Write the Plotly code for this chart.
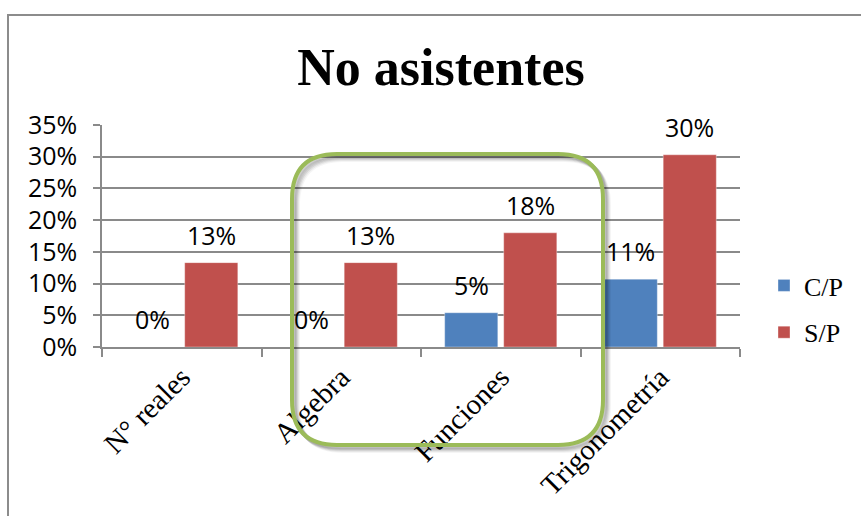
import plotly.graph_objects as go

# Data
categories = ["N° reales", "Algebra", "Funciones", "Trigonometría"]
cp_values = [0.0, 0.0, 0.054, 0.107]     # C/P
sp_values = [0.133, 0.133, 0.180, 0.303]  # S/P
y_ticks = [0, 0.05, 0.10, 0.15, 0.20, 0.25, 0.30, 0.35]

BLUE = "#4F81BD"
RED = "#C0504D"
GREEN = "#9BBB59"
GRID = "#8a8a8a"

W, H = 861, 516
PL, PR, PT, PB = 102, 740, 125, 347  # plot area in pixels


def px(x, y):
    """Pixel position -> paper coordinates."""
    return (x - PL) / (PR - PL), (PB - y) / (PB - PT)


def rounded_rect(x0, y0, x1, y1, r):
    pts = [
        ("M", [(x0 + r, y0)]),
        ("L", [(x1 - r, y0)]),
        ("Q", [(x1, y0), (x1, y0 + r)]),
        ("L", [(x1, y1 - r)]),
        ("Q", [(x1, y1), (x1 - r, y1)]),
        ("L", [(x0 + r, y1)]),
        ("Q", [(x0, y1), (x0, y1 - r)]),
        ("L", [(x0, y0 + r)]),
        ("Q", [(x0, y0), (x0 + r, y0)]),
    ]
    out = []
    for cmd, ps in pts:
        coords = []
        for (a, b) in ps:
            u, v = px(a, b)
            coords.append(f"{u:.5f},{v:.5f}")
        out.append(cmd + " ".join(coords))
    return " ".join(out) + " Z"


fig = go.Figure()
fig.add_trace(go.Bar(name="C/P", x=categories, y=cp_values, marker_color=BLUE,
                     marker_line=dict(color="rgba(255,255,255,0.35)", width=1),
                     legendgroup="cp"))
fig.add_trace(go.Bar(name="S/P", x=categories, y=sp_values, marker_color=RED,
                     marker_line=dict(color="rgba(255,255,255,0.35)", width=1),
                     legendgroup="sp"))

label_font = dict(family="Open Sans", size=25, color="#000000")
annotations = []
for vals, shift in ((cp_values, -29.5), (sp_values, 29.5)):
    for c, v in zip(categories, vals):
        annotations.append(dict(x=c, y=v, xref="x", yref="y", text=f"{v:.0%}",
                                showarrow=False, xshift=shift, yshift=9,
                                yanchor="bottom", font=label_font))

shapes = []
# outer frame
fx0, fy0 = px(8, 15)
fx1, fy1 = px(875, 540)
shapes.append(dict(type="rect", xref="paper", yref="paper", x0=fx0, y0=fy1, x1=fx1, y1=fy0,
                   line=dict(color="#8c8c8c", width=2), layer="below"))
# soft shadow of the highlight box
for off, alpha in ((6, 0.04), (5, 0.06), (4, 0.08), (3, 0.10), (2, 0.10)):
    shapes.append(dict(type="path", xref="paper", yref="paper",
                       path=rounded_rect(292 + off, 154 + off, 603 + off, 445 + off, 45),
                       line=dict(color=f"rgba(0,0,0,{alpha})", width=4), layer="above"))
# highlight box
shapes.append(dict(type="path", xref="paper", yref="paper",
                   path=rounded_rect(292, 154, 603, 445, 45),
                   line=dict(color=GREEN, width=4), layer="above"))

fig.update_layout(
    width=W, height=H,
    margin=dict(l=PL, r=W - PR, t=PT, b=H - PB, autoexpand=False),
    paper_bgcolor="white", plot_bgcolor="white",
    barmode="group", bargap=0.26, bargroupgap=0.1,
    title=dict(text="<b>No asistentes</b>", x=441 / W, xanchor="center",
               y=1 - 67 / H, yanchor="middle", yref="container",
               font=dict(family="Liberation Serif", size=52, color="#000000")),
    legend=dict(x=(764 - PL) / (PR - PL), xanchor="left", y=(PB - 262) / (PB - PT), yanchor="top",
                font=dict(family="Liberation Serif", size=26, color="#000000"),
                traceorder="grouped", tracegroupgap=10, bgcolor="rgba(0,0,0,0)"),
    annotations=annotations,
    shapes=shapes,
    showlegend=True,
)

fig.update_xaxes(
    type="category", tickson="boundaries", ticks="outside", ticklen=8, tickcolor=GRID,
    tickwidth=1.5, showline=True, linecolor=GRID, linewidth=1.5, showgrid=False,
    tickangle=-45, automargin=False,
    tickfont=dict(family="Liberation Serif", size=29, color="#000000"),
)
fig.update_yaxes(
    range=[0, 0.35], tickvals=y_ticks, tickformat=".0%", ticks="outside", ticklen=7,
    tickcolor=GRID, tickwidth=1.5, showline=True, linecolor=GRID, linewidth=1.5,
    showgrid=True, gridcolor=GRID, gridwidth=1.5, zeroline=False, automargin=False,
    ticklabelstandoff=11,
    tickfont=dict(family="Open Sans", size=25, color="#000000"),
)

fig.write_html("out.html")
